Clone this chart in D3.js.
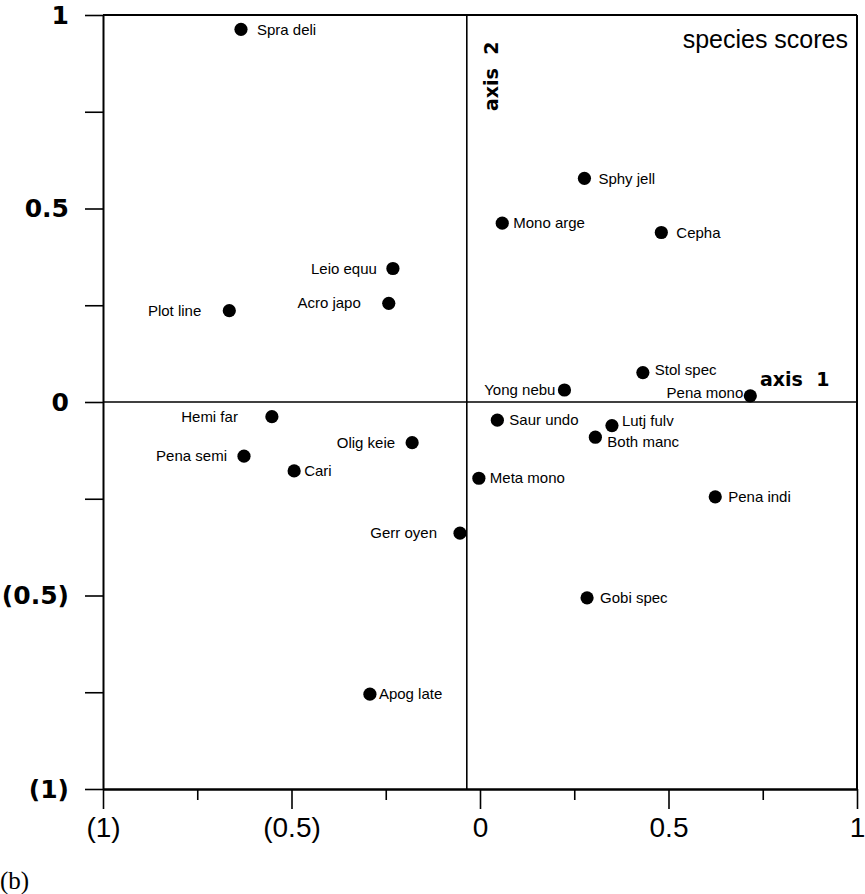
<!DOCTYPE html>
<html>
<head>
<meta charset="utf-8">
<script src="https://cdn.jsdelivr.net/npm/d3@7"></script>
<style>
  body { margin: 0; background: #fff; }
  text { fill: #000; }
</style>
</head>
<body>
<div id="chart"></div>
<script>
// Data

var species = ["Spra deli", "Sphy jell", "Mono arge", "Cepha", "Leio equu", "Acro japo", "Plot line",
  "Stol spec", "Yong nebu", "Pena mono", "Hemi far", "Saur undo", "Lutj fulv", "Both manc",
  "Olig keie", "Pena semi", "Cari", "Meta mono", "Pena indi", "Gerr oyen", "Gobi spec", "Apog late"];

var axis1Scores = [-0.634, 0.277, 0.059, 0.481, -0.231, -0.242, -0.665, 0.432, 0.224, 0.717,
  -0.552, 0.046, 0.350, 0.306, -0.180, -0.626, -0.493, -0.003, 0.624, -0.053, 0.284, -0.292];

var axis2Scores = [0.963, 0.578, 0.462, 0.438, 0.345, 0.255, 0.236, 0.076, 0.031, 0.016,
  -0.038, -0.047, -0.061, -0.091, -0.105, -0.140, -0.178, -0.197, -0.245, -0.339, -0.506, -0.755];

var axis2Position = -0.035;   // the vertical "axis 2" line sits a little left of 0

var majorTicks = [-1, -0.5, 0, 0.5, 1];
var minorTicks = [-0.75, -0.25, 0.25, 0.75];
var allTicks = [-1, -0.75, -0.5, -0.25, 0, 0.25, 0.5, 0.75, 1];

// Label placement: which side of the dot, gap, vertical nudge
var labelPlace = {
  "Spra deli": ["start", 16, 0], "Sphy jell": ["start", 14, 0], "Mono arge": ["start", 11, 0],
  "Cepha": ["start", 15, 0], "Leio equu": ["end", -16, 0], "Acro japo": ["end", -28, -1],
  "Plot line": ["end", -28, 0], "Stol spec": ["start", 12, -3], "Yong nebu": ["end", -9, 0],
  "Pena mono": ["end", -7, -3], "Hemi far": ["end", -34, 0], "Saur undo": ["start", 12, 0],
  "Lutj fulv": ["start", 10, -5], "Both manc": ["start", 12, 5], "Olig keie": ["end", -17, 0],
  "Pena semi": ["end", -17, 0], "Cari": ["start", 10, 0], "Meta mono": ["start", 11, 0],
  "Pena indi": ["start", 13, 0], "Gerr oyen": ["end", -23, 0], "Gobi spec": ["start", 13, 0],
  "Apog late": ["start", 9, 0]
};

// Dimensions

var width = 865;
var height = 894;

var x = d3.scaleLinear().domain([-1, 1]).range([103, 857]);
var y = d3.scaleLinear().domain([-1, 1]).range([789, 15]);

function fmt(d) {
  return d < 0 ? "(" + Math.abs(d) + ")" : String(d);
}

var svg = d3.select("#chart").append("svg")
    .attr("width", width)
    .attr("height", height);

// Frame (top and right edges)

svg.append("line")
    .attr("x1", x(-1)).attr("x2", x(1))
    .attr("y1", y(1)).attr("y2", y(1))
    .attr("stroke", "#000").attr("stroke-width", 2);

svg.append("line")
    .attr("x1", x(1)).attr("x2", x(1))
    .attr("y1", y(1)).attr("y2", y(-1))
    .attr("stroke", "#000").attr("stroke-width", 2);

// Zero lines

svg.append("line")
    .attr("x1", x(-1)).attr("x2", x(1))
    .attr("y1", y(0)).attr("y2", y(0))
    .attr("stroke", "#000").attr("stroke-width", 1.6);

svg.append("line")
    .attr("x1", x(axis2Position)).attr("x2", x(axis2Position))
    .attr("y1", y(1)).attr("y2", y(-1))
    .attr("stroke", "#000").attr("stroke-width", 1.6);

// X axis: minor then major ticks

var xMinor = svg.append("g")
    .attr("transform", "translate(0," + y(-1) + ")")
    .call(d3.axisBottom(x).tickValues(minorTicks).tickSize(11).tickSizeOuter(0).tickFormat(""));

var xMajor = svg.append("g")
    .attr("transform", "translate(0," + y(-1) + ")")
    .call(d3.axisBottom(x).tickValues(majorTicks).tickSize(20).tickSizeOuter(0).tickPadding(8).tickFormat(fmt));

xMajor.selectAll("text")
    .style("font-family", "'Liberation Sans', Arial, sans-serif")
    .style("font-size", "28px");

// Y axis

var yAxis = svg.append("g")
    .attr("transform", "translate(" + x(-1) + ",0)")
    .call(d3.axisLeft(y).tickValues(allTicks).tickSize(18).tickSizeOuter(0).tickPadding(16)
      .tickFormat(function(d) { return majorTicks.indexOf(d) >= 0 ? fmt(d) : ""; }));

yAxis.selectAll("text")
    .style("font-family", "'DejaVu Sans', sans-serif")
    .style("font-weight", "bold")
    .style("font-size", "25px");

svg.selectAll(".domain").attr("stroke", "#000").attr("stroke-width", 2);
svg.selectAll(".tick line").attr("stroke", "#000").attr("stroke-width", 1.6);

// Points

var pts = species.map(function(name, i) {
  return { name: name, a1: axis1Scores[i], a2: axis2Scores[i] };
});

svg.selectAll("circle.dot")
    .data(pts)
    .enter()
    .append("circle")
    .attr("class", "dot")
    .attr("cx", function(d) { return x(d.a1); })
    .attr("cy", function(d) { return y(d.a2); })
    .attr("r", 6.6)
    .attr("fill", "#000");

svg.selectAll("text.lab")
    .data(pts)
    .enter()
    .append("text")
    .attr("class", "lab")
    .attr("x", function(d) { return x(d.a1) + labelPlace[d.name][1]; })
    .attr("y", function(d) { return y(d.a2) + labelPlace[d.name][2]; })
    .attr("dy", "0.35em")
    .attr("text-anchor", function(d) { return labelPlace[d.name][0]; })
    .style("font-family", "'Liberation Sans', Arial, sans-serif")
    .style("font-size", "15px")
    .text(function(d) { return d.name; });

// Annotations

svg.append("text")
    .attr("x", 848).attr("y", 48)
    .attr("text-anchor", "end")
    .style("font-family", "'Liberation Sans', Arial, sans-serif")
    .style("font-size", "25px")
    .text("species scores");

svg.append("text")
    .attr("x", 760).attr("y", 386)
    .style("font-family", "'DejaVu Sans', sans-serif")
    .style("font-weight", "bold")
    .style("font-size", "19px")
    .style("white-space", "pre")
    .text("axis  1");

svg.append("text")
    .attr("transform", "translate(498,111) rotate(-90)")
    .style("font-family", "'DejaVu Sans', sans-serif")
    .style("font-weight", "bold")
    .style("font-size", "19px")
    .style("white-space", "pre")
    .text("axis  2");

svg.append("text")
    .attr("x", 0).attr("y", 889)
    .style("font-family", "'Liberation Serif', 'Times New Roman', serif")
    .style("font-size", "25px")
    .text("(b)");
</script>
</body>
</html>
